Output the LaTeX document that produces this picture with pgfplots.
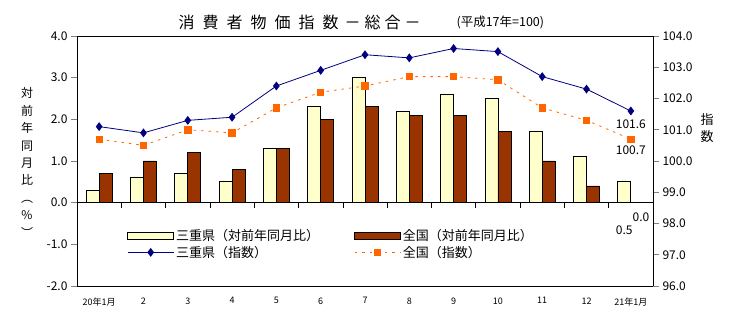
\documentclass[border=0pt]{standalone}
\usepackage{fontspec}
\setmainfont{Noto Sans CJK JP}
\usepackage{pgfplots}
\pgfplotsset{compat=1.18}
\definecolor{mieyellow}{HTML}{FFFFCC}
\definecolor{natbrown}{HTML}{993300}
\definecolor{mienavy}{HTML}{000080}
\definecolor{natorange}{HTML}{FF6600}
\pgfplotsset{
  barlegend/.style={legend image code/.code={\draw[##1] (0pt,-3.5pt) rectangle (46pt,3.5pt);}},
  linelegend/.style={legend image code/.code={\draw[mark repeat=2,mark phase=2,##1] plot coordinates {(0pt,0pt) (23pt,0pt) (46pt,0pt)};}},
}
\begin{document}
\begin{tikzpicture}[x=1pt,y=1pt]
\path[use as bounding box] (0,0) rectangle (729,328);
\begin{axis}[
  at={(77pt,42pt)}, anchor=south west,
  width=576pt, height=250pt, scale only axis,
  xmin=-0.5, xmax=12.5, ymin=-2, ymax=4,
  ytick={-2,-1,0,1,2,3,4},
  ytick pos=left,
  /pgf/number format/assume math mode=true,
  y tick label style={/pgf/number format/fixed, /pgf/number format/fixed zerofill, /pgf/number format/precision=1, font=\fontsize{12}{12}\selectfont},
  xtick={0,...,12},
  xticklabels={20年1月,2,3,4,5,6,7,8,9,10,11,12,21年1月},
  x tick label style={font=\fontsize{9}{10}\selectfont, yshift=-2pt},
  major x tick style={draw=none},
  tick align=outside, major tick length=6pt,
  axis line style={line width=0.8pt},
  ytick style={line width=0.6pt},
  ybar=0pt, bar width=13pt,
  clip=false,
]
\addplot[fill=mieyellow, draw=black, line width=0.8pt] coordinates
  {(0,0.3) (1,0.6) (2,0.7) (3,0.5) (4,1.3) (5,2.3) (6,3.0) (7,2.2) (8,2.6) (9,2.5) (10,1.7) (11,1.1) (12,0.5)};
\addplot[fill=natbrown, draw=black, line width=0.8pt] coordinates
  {(0,0.7) (1,1.0) (2,1.2) (3,0.8) (4,1.3) (5,2.0) (6,2.3) (7,2.1) (8,2.1) (9,1.7) (10,1.0) (11,0.4) (12,0.0)};
\draw[line width=0.8pt] (axis cs:-0.5,0) -- (axis cs:12.5,0);
\pgfplotsinvokeforeach{0.5,1.5,2.5,3.5,4.5,5.5,6.5,7.5,8.5,9.5,10.5,11.5}{
  \draw[line width=0.6pt] (axis cs:#1,0) -- (axis cs:#1,-0.12);
}
\node[font=\fontsize{12}{12}\selectfont] at (axis cs:11.85,-0.67) {0.5};
\node[font=\fontsize{12}{12}\selectfont] at (axis cs:12.23,-0.35) {0.0};
\end{axis}
\begin{axis}[
  at={(77pt,42pt)}, anchor=south west,
  width=576pt, height=250pt, scale only axis,
  xmin=-0.5, xmax=12.5, ymin=96, ymax=104,
  axis x line=none, axis y line*=right,
  ytick={96,97,98,99,100,101,102,103,104},
  /pgf/number format/assume math mode=true,
  y tick label style={/pgf/number format/fixed, /pgf/number format/fixed zerofill, /pgf/number format/precision=1, font=\fontsize{12}{12}\selectfont},
  tick align=outside, major tick length=6pt,
  axis line style={line width=0.8pt},
  ytick style={line width=0.6pt},
  clip=false,
  legend columns=2,
  legend style={at={(0.087,0.235)}, anchor=north west, draw=none, fill=none,
    font=\fontsize{13}{13}\selectfont, inner sep=0pt,
    /tikz/every even column/.append style={column sep=33pt}},
  legend cell align=left,
]
\addlegendimage{barlegend, fill=mieyellow, draw=black, line width=0.8pt}
\addlegendentry{三重県（対前年同月比）}
\addlegendimage{barlegend, fill=natbrown, draw=black, line width=0.8pt}
\addlegendentry{全国（対前年同月比）}
\addplot[linelegend, color=mienavy, line width=0.8pt, mark=diamond*, mark size=3.8pt] coordinates
  {(0,101.1) (1,100.9) (2,101.3) (3,101.4) (4,102.4) (5,102.9) (6,103.4) (7,103.3) (8,103.6) (9,103.5) (10,102.7) (11,102.3) (12,101.6)};
\addlegendentry{三重県（指数）}
\addplot[linelegend, color=natorange, line width=0.8pt, dash pattern=on 2.5pt off 5pt, mark=square*, mark size=3.2pt, mark options={solid}] coordinates
  {(0,100.7) (1,100.5) (2,101.0) (3,100.9) (4,101.7) (5,102.2) (6,102.4) (7,102.7) (8,102.7) (9,102.6) (10,101.7) (11,101.3) (12,100.7)};
\addlegendentry{全国（指数）}
\node[font=\fontsize{12}{12}\selectfont] at (axis cs:12,101.18) {101.6};
\node[font=\fontsize{12}{12}\selectfont] at (axis cs:12,100.35) {100.7};
\end{axis}
\node[anchor=west, font=\fontsize{16}{16}\selectfont] at (175,306)
  {消\hspace{8pt}費\hspace{8pt}者\hspace{8pt}物\hspace{8pt}価\hspace{8pt}指\hspace{8pt}数\hspace{6pt}－\hspace{4pt}総\hspace{4pt}合\hspace{4pt}－};
\node[anchor=west, font=\fontsize{12.5}{12.5}\selectfont] at (453,306) {(平成17年=100)};
\node[align=center, font=\fontsize{12}{17.4}\selectfont] at (27,165.5)
  {対\\前\\年\\同\\月\\比\\︵\\\%\\︶};
\node[align=center, font=\fontsize{13}{17}\selectfont] at (707,199.5) {指\\数};
\end{tikzpicture}
\end{document}
